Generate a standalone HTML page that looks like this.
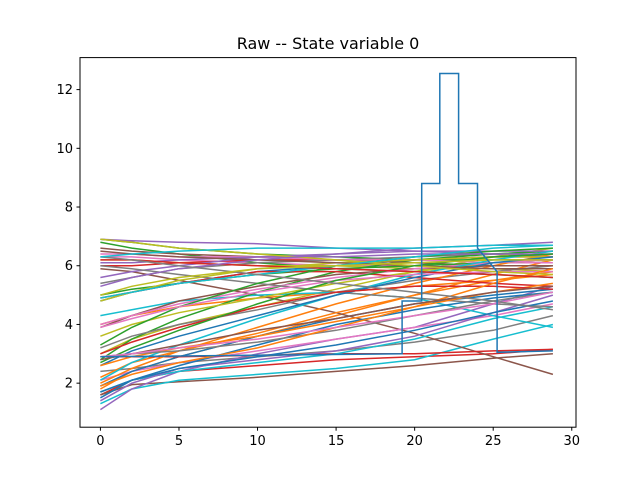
<!DOCTYPE html>
<html><head><meta charset="utf-8"><style>
body{margin:0;background:#fff;}
svg text{font-family:"DejaVu Sans","Liberation Sans",sans-serif;}
</style></head><body>
<svg id="chart" width="640" height="480" xmlns="http://www.w3.org/2000/svg">
<rect width="640" height="480" fill="#fff"/>
<text x="328" y="49" font-size="16" text-anchor="middle">Raw -- State variable 0</text>
<g id="lines"></g>
<g id="axes"></g>
<rect x="80" y="57.6" width="496" height="369.6" fill="none" stroke="#000" stroke-width="1"/>
</svg>
<script>
const xKnots=[0,2,5,10,15,20,25,28.8];
const xTicks=[0,5,10,15,20,25,30];
const yTicks=[2,4,6,8,10,12];
const spikeX=[0,19.2,19.2,20.45,20.45,21.6,21.6,22.8,22.8,24.0,24.0,25.25,25.25,28.8];
const spikeY=[2.9,3.0,4.8,4.8,8.8,8.8,12.55,12.55,8.8,8.8,6.6,5.8,3.05,3.1];
const series=[
[1.8,2.4,2.9,3.6,4.3,5.0,5.7,6.2],
[6.9,6.8,6.6,6.4,6.3,6.2,6.2,6.2],
[1.6,2.1,2.4,2.6,2.8,2.9,3.0,3.15],
[6.9,6.85,6.8,6.75,6.6,6.5,6.4,6.3],
[1.6,1.95,2.05,2.2,2.4,2.6,2.85,3.0],
[6.3,6.3,6.2,6.1,6.0,6.0,5.9,5.9],
[2.4,2.5,2.7,2.9,3.1,3.4,3.8,4.3],
[3.0,3.5,4.0,4.6,5.2,5.8,6.3,6.6],
[1.3,1.8,2.1,2.3,2.5,2.8,3.5,4.0],
[4.8,5.1,5.4,5.8,6.0,6.2,6.3,6.4],
[4.0,4.3,4.6,4.9,5.1,5.3,5.5,5.7],
[6.8,6.6,6.4,6.1,5.9,5.8,5.7,5.6],
[6.0,6.0,6.1,6.2,6.2,6.2,6.3,6.3],
[1.1,1.8,2.4,3.0,3.5,3.9,4.7,5.3],
[5.9,5.8,5.5,5.0,4.4,3.7,2.9,2.3],
[2.1,2.4,2.7,3.1,3.5,3.9,4.3,4.7],
[5.4,5.6,5.9,6.1,6.2,6.3,6.4,6.5],
[6.2,6.2,6.1,6.0,6.0,5.9,5.9,5.8],
[4.3,4.5,4.8,5.0,5.1,4.9,4.3,3.9],
[1.9,2.4,2.9,3.6,4.2,4.7,5.0,5.2],
[2.2,2.7,3.1,3.7,4.4,5.0,5.5,5.8],
[2.8,3.5,4.2,5.1,5.8,6.2,6.4,6.5],
[2.9,2.9,2.9,2.95,3.0,3.0,3.1,3.15],
[5.6,5.8,6.0,6.3,6.4,6.5,6.5,6.5],
[6.6,6.5,6.4,6.3,6.2,6.1,6.0,6.0],
[6.4,6.4,6.3,6.3,6.2,6.2,6.1,6.1],
[3.2,3.6,4.0,4.5,5.1,5.5,5.8,6.0],
[3.6,4.0,4.4,4.9,5.4,5.8,6.1,6.2],
[1.7,2.1,2.4,2.7,3.0,3.5,4.2,4.6],
[1.5,2.1,2.6,3.3,4.0,4.5,4.9,5.1],
[2.0,2.5,3.1,3.9,4.7,5.4,6.0,6.4],
[5.0,5.2,5.4,5.7,5.9,6.0,6.1,6.2],
[4.9,5.1,5.4,5.8,5.8,5.6,5.4,5.3],
[1.4,2.0,2.5,2.8,3.1,3.6,4.4,5.0],
[3.9,4.3,4.8,5.3,5.7,5.9,6.0,6.0],
[4.0,4.3,4.7,5.2,5.6,5.9,6.1,6.2],
[6.0,5.9,5.7,5.4,5.1,4.9,4.7,4.6],
[4.8,5.1,5.5,5.9,6.1,6.2,6.3,6.3],
[2.1,2.7,3.3,4.2,5.0,5.7,6.2,6.5],
[2.6,3.1,3.6,4.3,5.0,5.6,6.1,6.3],
[2.6,2.9,3.2,3.6,4.1,4.6,5.1,5.4],
[3.3,3.9,4.6,5.4,6.0,6.3,6.5,6.6],
[3.0,3.4,3.9,4.6,5.1,5.3,5.3,5.2],
[6.1,6.1,6.2,6.3,6.3,6.4,6.4,6.4],
[6.5,6.4,6.3,6.2,6.1,6.0,5.9,5.9],
[3.9,4.2,4.6,5.1,5.5,5.7,5.8,5.8],
[2.9,3.0,3.1,3.4,3.8,4.3,4.8,5.1],
[6.9,6.8,6.6,6.4,6.2,6.0,5.8,5.7],
[4.9,5.1,5.4,5.7,6.0,6.3,6.6,6.7],
[1.7,2.1,2.5,2.9,3.3,3.8,4.4,4.8],
[1.9,2.3,2.7,3.2,3.9,4.6,5.4,5.9],
[2.7,3.2,3.8,4.7,5.5,6.0,6.3,6.4],
[6.2,6.2,6.1,6.0,5.9,5.8,5.7,5.6],
[5.3,5.6,5.9,6.2,6.4,6.6,6.7,6.8],
[2.8,3.0,3.3,3.8,4.2,4.7,5.1,5.3],
[2.9,3.0,3.2,3.5,3.9,4.3,4.7,5.1],
[6.3,6.2,6.0,5.7,5.4,5.1,4.8,4.5],
[5.0,5.3,5.6,5.9,6.0,6.1,6.2,6.2],
[6.3,6.4,6.5,6.6,6.6,6.6,6.7,6.7]
];
const colors=["#1f77b4","#ff7f0e","#2ca02c","#d62728","#9467bd","#8c564b","#e377c2","#7f7f7f","#bcbd22","#17becf"];
const X0=80,X1=576,Y0=57.6,Y1=427.2;
const xMin=-1.3,xMax=30.27,yMin=0.5,yMax=13.09;
function sx(v){return X0+(v-xMin)/(xMax-xMin)*(X1-X0);}
function sy(v){return Y1-(v-yMin)/(yMax-yMin)*(Y1-Y0);}
const NS="http://www.w3.org/2000/svg";
const lg=document.getElementById('lines');
const ax=document.getElementById('axes');
function poly(xs,ys,c,name){
  const p=document.createElementNS(NS,'polyline');
  p.setAttribute('points',xs.map((x,i)=>sx(x).toFixed(1)+','+sy(ys[i]).toFixed(1)).join(' '));
  p.setAttribute('fill','none');
  p.setAttribute('stroke',c);
  p.setAttribute('stroke-width','1.5');
  
  
  lg.appendChild(p);
}
series.forEach((s,i)=>poly(xKnots,s,colors[(i+1)%10],'series-line-'+(i+1)));
poly(spikeX,spikeY,colors[0],'series-line-spike');
xTicks.forEach(t=>{
  const l=document.createElementNS(NS,'line');
  l.setAttribute('x1',sx(t));l.setAttribute('x2',sx(t));l.setAttribute('y1',Y1);l.setAttribute('y2',Y1+3.5);l.setAttribute('stroke','#000');
  
  
  ax.appendChild(l);
  const tx=document.createElementNS(NS,'text');
  tx.setAttribute('x',sx(t));tx.setAttribute('y',Y1+18);tx.setAttribute('font-size','13');tx.setAttribute('text-anchor','middle');
  tx.textContent=t;
  
  
  ax.appendChild(tx);
});
yTicks.forEach(t=>{
  const l=document.createElementNS(NS,'line');
  l.setAttribute('x1',X0-3.5);l.setAttribute('x2',X0);l.setAttribute('y1',sy(t));l.setAttribute('y2',sy(t));l.setAttribute('stroke','#000');
  
  
  ax.appendChild(l);
  const tx=document.createElementNS(NS,'text');
  tx.setAttribute('x',X0-7);tx.setAttribute('y',sy(t)+4.5);tx.setAttribute('font-size','13');tx.setAttribute('text-anchor','end');
  tx.textContent=t;
  
  
  ax.appendChild(tx);
});
</script>
</body></html>
